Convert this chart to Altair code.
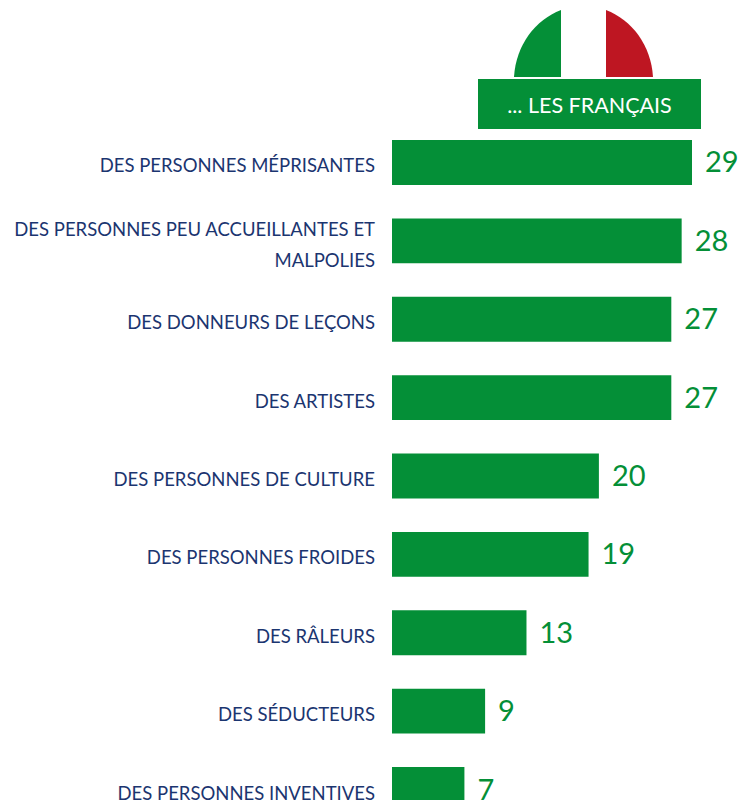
import altair as alt

categories = ["DES PERSONNES MÉPRISANTES", "DES PERSONNES PEU ACCUEILLANTES ET|MALPOLIES",
              "DES DONNEURS DE LEÇONS", "DES ARTISTES", "DES PERSONNES DE CULTURE",
              "DES PERSONNES FROIDES", "DES RÂLEURS", "DES SÉDUCTEURS", "DES PERSONNES INVENTIVES"]
values = [29, 28, 27, 27, 20, 19, 13, 9, 7]
header = "... LES FRANÇAIS"

GREEN = "#048f37"; NAVY = "#1b3570"; RED = "#be1622"
FONT = "Lato"
OX, OY = 392, 140            # page position of the plot's origin


def px(v):
    return alt.value(v - OX)


def py(v):
    return alt.value(v - OY)


rows = [{"key": c, "label": c.split("|"), "value": v} for c, v in zip(categories, values)]
data = alt.Data(values=rows)
one = alt.Data(values=[{"header": header}])

yenc = alt.Y("key:N", sort=None, axis=None,
             scale=alt.Scale(paddingInner=0.426, paddingOuter=0, range=[0, 672]))
xenc = alt.X("value:Q", axis=None, scale=alt.Scale(domain=[0, 29], nice=False, zero=True))

bars = alt.Chart(data).mark_bar(color=GREEN, clip=False).encode(x=xenc, y=yenc)
nums = alt.Chart(data).mark_text(font=FONT, fontSize=29, color=GREEN, align="left",
                                 baseline="middle", dx=13, dy=1).encode(x=xenc, y=yenc, text="value:Q")


def label_layer(test, dy):
    return alt.Chart(data).transform_filter(test).mark_text(
        font=FONT, fontSize=18.5, color=NAVY, align="right", baseline="middle", dy=dy, lineHeight=31
    ).encode(x=alt.value(-17), y=yenc, text="label:N")


labels_single = label_layer("length(datum.label) == 1", 4)
labels_double = label_layer("length(datum.label) > 1", -11)

hdr_rect = alt.Chart(one).mark_rect(color=GREEN).encode(x=px(478), x2=px(701), y=py(79), y2=py(129))
hdr_text = alt.Chart(one).mark_text(font=FONT, fontSize=21.5, color="white", align="center",
                                    baseline="middle").encode(x=px(589.5), y=py(107), text="header:N")


def shape(path, color):
    return alt.Chart(one).mark_point(shape=path, filled=True, size=4, opacity=1, color=color,
                                     strokeWidth=0).encode(x=px(0), y=py(0))


flag_green = shape("M514,77 C516,45 535,20 561,10 L561,77 Z", GREEN)
flag_red = shape("M606,10 C632,20 651,45 653,77 L606,77 Z", RED)

chart = alt.layer(flag_green, flag_red, hdr_rect, hdr_text, bars, nums, labels_single, labels_double).resolve_scale(
    x="shared", y="shared"
).properties(
    width=300, height=660,
    padding={"left": 384, "top": 132, "right": 46, "bottom": 0},
    autosize=alt.AutoSizeParams(type="none"),
).configure_view(stroke=None)

chart.save("out.html", embed_options={"renderer": "svg", "actions": False})
